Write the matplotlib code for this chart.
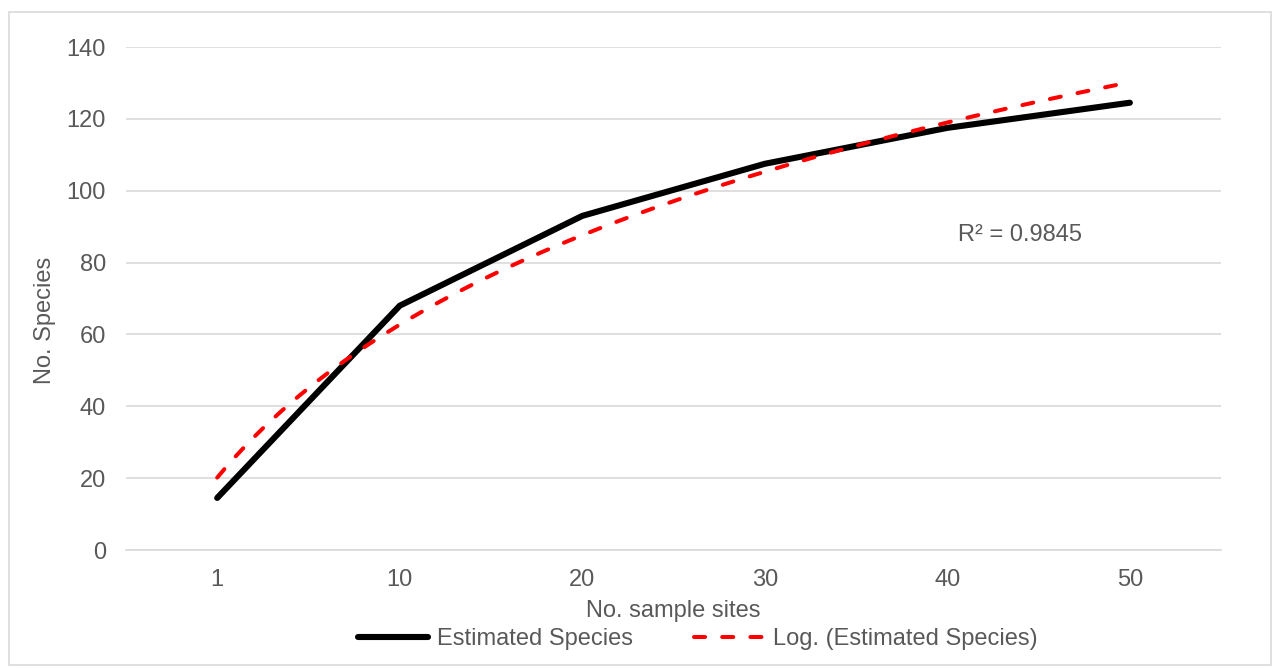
import numpy as np
import matplotlib.pyplot as plt
from matplotlib.patches import Rectangle

# data
sites = ['1', '10', '20', '30', '40', '50']
estimated_species = [14.5, 68, 93, 107.5, 117.5, 124.5]
y_ticks = [0, 20, 40, 60, 80, 100, 120, 140]
r2_label = 'R² = 0.9845'

plt.rcParams['font.family'] = ['Liberation Sans', 'DejaVu Sans']
text_col = '#595959'
grid_col = '#d9d9d9'
fs = 17


def main():
    fig = plt.figure(figsize=(12.76, 6.68), dpi=100)
    fig.patches.append(Rectangle((9 / 1276, 3 / 668), 1262 / 1276, 653 / 668,
                                 transform=fig.transFigure, fill=False,
                                 edgecolor=grid_col, linewidth=1.2))
    ax = fig.add_axes([0.0987, 0.1766, 0.8583, 0.753])

    # Excel category axis: points sit at 1..n
    xs = np.arange(1, len(sites) + 1)
    ys = np.array(estimated_species)

    # logarithmic trendline, least squares on ln(x)
    a, b = np.polyfit(np.log(xs), ys, 1)
    xf = np.linspace(1, len(sites), 200)
    yf = a * np.log(xf) + b

    ax.plot(xs, ys, color='black', lw=4.4, solid_capstyle='round',
            solid_joinstyle='round', label='Estimated Species', zorder=3)
    ax.plot(xf, yf, color='#ff0000', lw=2.9, linestyle=(0, (2.75, 4.25)),
            dash_capstyle='round', label='Log. (Estimated Species)', zorder=4)

    ax.set_xlim(0.5, len(sites) + 0.5)
    ax.set_ylim(0, 140)
    ax.set_xticks(xs)
    ax.set_xticklabels(sites)
    ax.set_yticks(y_ticks)
    ax.grid(axis='y', color=grid_col, lw=1.2)
    ax.set_axisbelow(True)
    for s in ['top', 'right', 'left']:
        ax.spines[s].set_visible(False)
    ax.spines['bottom'].set_color(grid_col)
    ax.spines['bottom'].set_linewidth(1.2)
    ax.tick_params(length=0, labelsize=fs, labelcolor=text_col)
    ax.tick_params(axis='x', pad=13.5)
    ax.tick_params(axis='y', pad=14.5)

    ax.set_xlabel('No. sample sites', fontsize=fs, color=text_col)
    ax.xaxis.label.set_va('center')
    ax.xaxis.set_label_coords(0.5, -61 / 503)
    ax.set_ylabel('No. Species', fontsize=fs, color=text_col)
    ax.yaxis.label.set_va('center')
    ax.yaxis.set_label_coords(-81 / 1095, 230 / 503)

    ax.text(5.06, 87.7, r2_label, fontsize=fs, color=text_col, va='center')

    fig.legend(*ax.get_legend_handles_labels(), loc='center',
               bbox_to_anchor=(698 / 1276, 1 - 639 / 668), ncol=2,
               frameon=False, fontsize=fs, labelcolor=text_col,
               handlelength=2.97, handletextpad=0.38, columnspacing=2.58,
               borderpad=0, borderaxespad=0)

    fig.savefig('out.png', dpi=100)


if __name__ == '__main__':
    main()
